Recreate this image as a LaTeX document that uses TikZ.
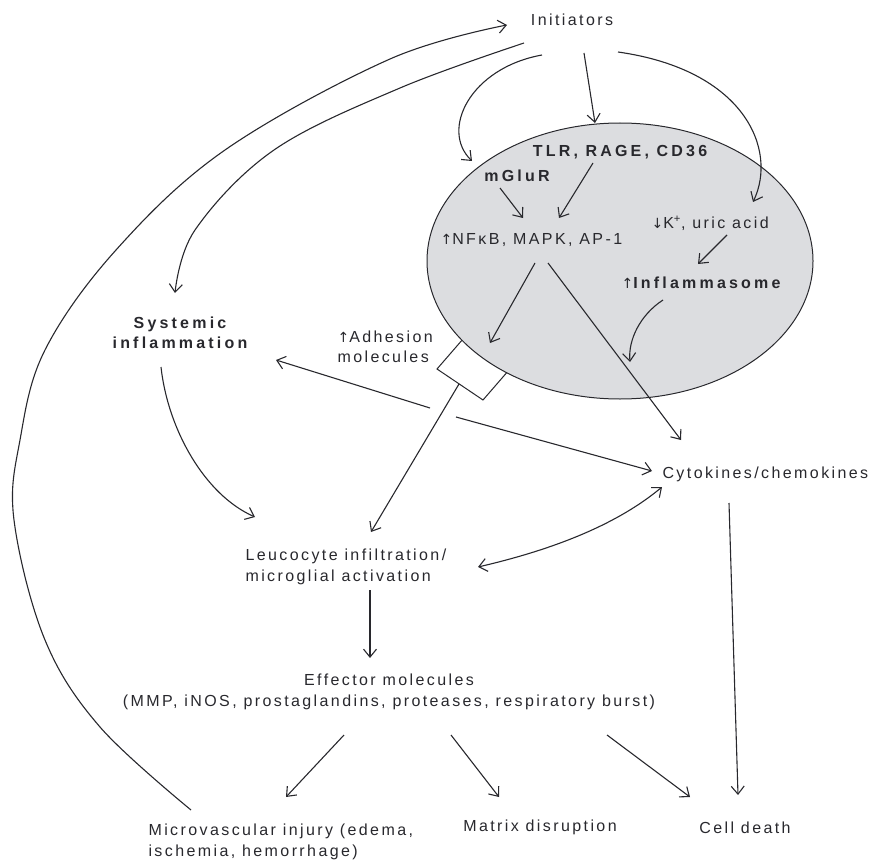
\documentclass[tikz,border=0pt]{standalone}
\usepackage{fontspec}
\setmainfont{Liberation Sans}[LetterSpace=15]
\newfontfamily\boldf{Liberation Sans Bold}[LetterSpace=20]
\newfontfamily\arrf{DejaVu Sans}
\newcommand{\upar}{{\arrf\fontsize{14}{14}\selectfont ↑}}
\newcommand{\dnar}{{\arrf\fontsize{14}{14}\selectfont ↓}}
\usetikzlibrary{arrows.meta}
\definecolor{ellfill}{RGB}{220,221,224}
\definecolor{ink}{RGB}{40,40,45}
\begin{document}
\begin{tikzpicture}[x=1pt,y=-1pt,
  line width=1.1pt, draw=ink,
  >={Straight Barb[length=8pt,width=13pt]},
  every node/.style={inner sep=0pt, text=ink, font=\fontsize{16}{20.5}\selectfont},
  boldtxt/.style={font=\fontsize{16}{20.5}\selectfont\boldf},
  link/.style={->, draw=ink}]
\useasboundingbox (0,0) rectangle (875,861);
% adhesion box (behind ellipse)
\coordinate (bxa) at (437,369);
\coordinate (bxb) at (483,400);
\coordinate (bxc) at (522,355);
\coordinate (bxd) at (476,324);
\draw[fill=white, line width=1pt] (bxa) -- (bxb) -- (bxc) -- (bxd) -- cycle;
\coordinate (boxbot) at (459,384);
% cell
\draw[fill=ellfill, line width=1pt] (620,261) ellipse [x radius=193, y radius=138];
% texts
\node (init) at (572,20) {Initiators};
\node[boldtxt] (tlr) at (620,152) {TLR, RAGE, CD36};
\node[boldtxt] (mglur) at (517,176) {mGluR};
\node[anchor=west] (nfkb) at (440,240) {\upar NFκB, MAPK, AP-1};
\node[anchor=west] (kplus) at (651,223) {\dnar K\textsuperscript{+}, uric acid};
\node[anchor=west] (inflam) at (621,283) {\upar{\boldf Inflammasome}};
\node[boldtxt, align=center] (sys) at (180,333) {Systemic\\inflammation};
\node[anchor=west, align=left] (adh) at (337,347) {\upar Adhesion\\molecules};
\node[anchor=west] (cyto) at (662,474) {Cytokines/chemokines};
\node[anchor=west, align=left] (leuco) at (245,567) {Leucocyte infiltration/\\microglial activation};
\node[align=center] (eff) at (389,692) {Effector molecules\\(MMP, iNOS, prostaglandins, proteases, respiratory burst)};
\node[anchor=west, align=left] (micro) at (148,842) {Microvascular injury (edema,\\ischemia, hemorrhage)};
\node (matrix) at (540,827) {Matrix disruption};
\node (death) at (745,828) {Cell death};
% coordinates for connector ends
\coordinate (iA) at (507,25);
\coordinate (iB) at (524,43);
\coordinate (iC) at (542,55);
\coordinate (iD) at (584,53);
\coordinate (iE) at (618,52);
\coordinate (microtop) at (191,810);
\coordinate (systop) at (175,293);
\coordinate (mgin) at (472,161);
\coordinate (tlrtop) at (595,123);
\coordinate (kin) at (753,202);
% Initiator connectors
\draw[link] plot[smooth, tension=0.6] coordinates {(microtop) (100,727) (45,640) (14,520) (20,440) (45,350) (116,250) (225,150) (390,59) (iA)};
\draw[link] plot[smooth, tension=0.6] coordinates {(iB) (400,88) (274,150) (195,230) (systop)};
\draw[link] (iC) .. controls (470,68) and (440,130) .. (mgin);
\draw[link] (iD) -- (tlrtop);
\draw[link] (iE) .. controls (745,70) and (778,150) .. (kin);
% inside cell
\draw[link] (500,188) -- (523,218);
\draw[link] (593,163) -- (559,218);
\draw[link] (727,235) -- (698,264);
\draw[link] (663,300) .. controls (640,315) and (628,340) .. (630,362);
\draw[link] (535,263) -- (490,343);
\draw[link] (548,263) -- (681,440);
% from adhesion box
\draw[link] (boxbot) -- (371,532);
\draw[link] (430,408) -- (276,360);
\draw[link] (456,417) -- (652,471);
% systemic to leucocyte
\draw[link] (161,367) .. controls (168,430) and (205,495) .. (255,517);
% cytokines <-> leucocyte
\draw[<->] (478,567) .. controls (560,548) and (620,522) .. (662,487);
% cytokines to cell death
\draw[link] (729,503) -- (738,795);
% leucocyte to effector
\draw[link] (370,590) -- (370,658);
% effector outcomes
\draw[link] (344,735) -- (286,797);
\draw[link] (451,735) -- (499,797);
\draw[link] (607,735) -- (690,797);
\end{tikzpicture}
\end{document}
